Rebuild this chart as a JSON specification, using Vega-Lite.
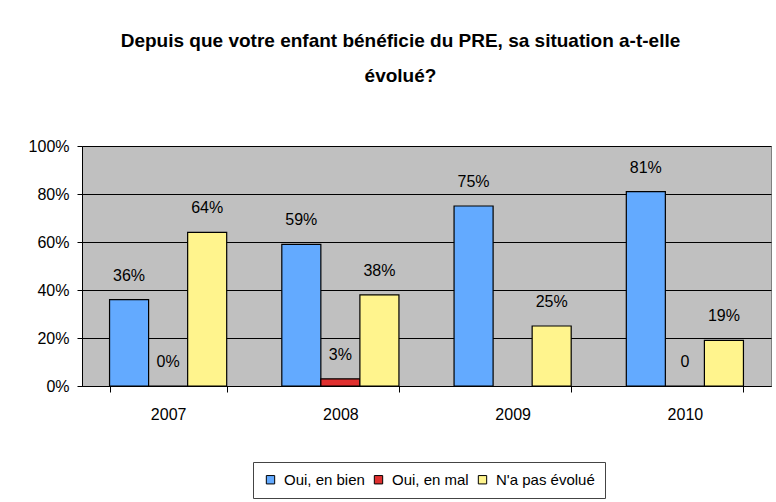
{
  "$schema": "https://vega.github.io/schema/vega-lite/v6.json",
  "width": 689,
  "height": 240,
  "autosize": {"type": "none"},
  "padding": {"left": 82, "top": 146, "right": 5, "bottom": 116},
  "background": "white",
  "title": {
    "text": ["Depuis que votre enfant bénéficie du PRE, sa situation a-t-elle", "évolué?"],
    "anchor": "middle",
    "frame": "group",
    "dx": -26,
    "offset": 52,
    "lineHeight": 35,
    "fontSize": 19,
    "fontWeight": "bold",
    "font": "Liberation Sans",
    "color": "black"
  },
  "data": {
    "values": [
      {"annee": "2007", "serie": "Oui, en bien", "valeur": 0.36, "label": "36%"},
      {"annee": "2007", "serie": "Oui, en mal", "valeur": 0.0, "label": "0%"},
      {"annee": "2007", "serie": "N'a pas évolué", "valeur": 0.64, "label": "64%"},
      {"annee": "2008", "serie": "Oui, en bien", "valeur": 0.59, "label": "59%"},
      {"annee": "2008", "serie": "Oui, en mal", "valeur": 0.03, "label": "3%"},
      {"annee": "2008", "serie": "N'a pas évolué", "valeur": 0.38, "label": "38%"},
      {"annee": "2009", "serie": "Oui, en bien", "valeur": 0.75, "label": "75%"},
      {"annee": "2009", "serie": "N'a pas évolué", "valeur": 0.25, "label": "25%"},
      {"annee": "2010", "serie": "Oui, en bien", "valeur": 0.81, "label": "81%"},
      {"annee": "2010", "serie": "Oui, en mal", "valeur": 0.0, "label": "0"},
      {"annee": "2010", "serie": "N'a pas évolué", "valeur": 0.19, "label": "19%"}
    ]
  },
  "encoding": {
    "x": {
      "field": "annee",
      "type": "nominal",
      "scale": {"paddingInner": 0.32, "paddingOuter": 0.16},
      "axis": {
        "title": null,
        "labelAngle": 0,
        "tickBand": "extent",
        "tickSize": 6,
        "tickColor": "black",
        "domainColor": "black",
        "labelPadding": 14,
        "labelFontSize": 16,
        "labelFont": "Liberation Sans",
        "labelColor": "black"
      }
    },
    "xOffset": {
      "field": "serie",
      "type": "nominal",
      "sort": ["Oui, en bien", "Oui, en mal", "N'a pas évolué"],
      "scale": {"domain": ["Oui, en bien", "Oui, en mal", "N'a pas évolué"], "paddingInner": 0, "paddingOuter": 0}
    },
    "y": {
      "field": "valeur",
      "type": "quantitative",
      "scale": {"domain": [0, 1], "nice": false},
      "axis": {
        "title": null,
        "values": [0, 0.2, 0.4, 0.6, 0.8, 1],
        "format": ".0%",
        "grid": true,
        "gridColor": "black",
        "gridOpacity": 1,
        "tickColor": "black",
        "tickSize": 5,
        "domainColor": "black",
        "labelPadding": 8,
        "labelFontSize": 16,
        "labelFont": "Liberation Sans",
        "labelColor": "black"
      }
    }
  },
  "layer": [
    {
      "mark": {"type": "bar", "stroke": "black", "strokeWidth": 1.2},
      "encoding": {
        "color": {
          "field": "serie",
          "type": "nominal",
          "sort": ["Oui, en bien", "Oui, en mal", "N'a pas évolué"],
          "scale": {
            "domain": ["Oui, en bien", "Oui, en mal", "N'a pas évolué"],
            "range": ["#63AAFF", "#E0302F", "#FFF48D"]
          },
          "legend": {
            "title": null,
            "orient": "none",
            "direction": "horizontal",
            "legendX": 171,
            "legendY": 316,
            "symbolType": "square",
            "symbolSize": 70,
            "symbolStrokeColor": "black",
            "symbolStrokeWidth": 1,
            "labelFontSize": 15,
            "labelFont": "Liberation Sans",
            "labelColor": "black",
            "labelOffset": 6,
            "columnPadding": 6,
            "strokeColor": "#444444",
            "padding": 10
          }
        }
      }
    },
    {
      "mark": {"type": "text", "baseline": "middle", "dy": -24, "fontSize": 16, "font": "Liberation Sans", "color": "black"},
      "encoding": {
        "text": {"field": "label"}
      }
    }
  ],
  "config": {
    "view": {"fill": "#C0C0C0", "stroke": "#808080"},
    "axis": {"domainWidth": 1, "tickWidth": 1, "gridWidth": 1}
  }
}
